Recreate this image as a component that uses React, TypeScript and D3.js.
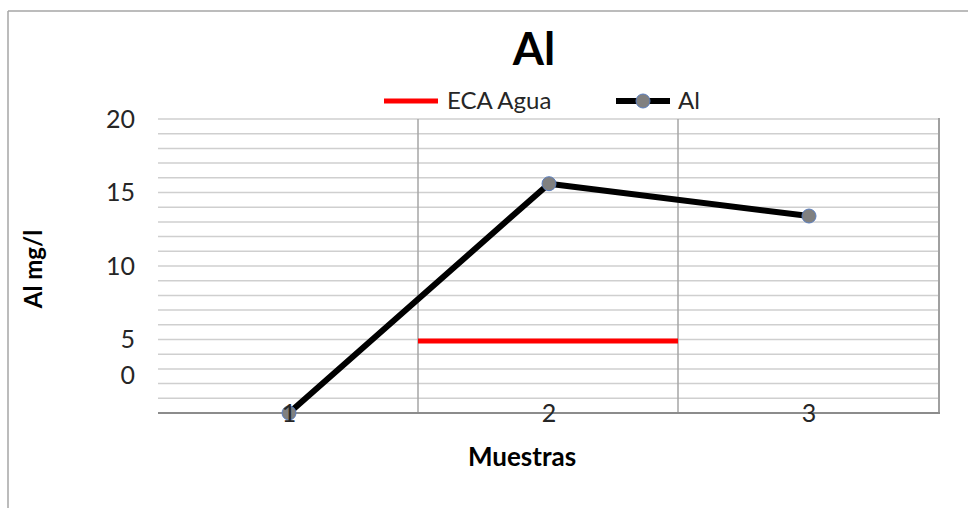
import React from "react";
import * as d3 from "d3";

const categories = ["1", "2", "3"];
const alValues = [0, 15.6, 13.4];
const ecaValue = 4.9;
const yTickValues = [20, 15, 10, 5, 2.6];
const yTickLabels = ["20", "15", "10", "5", "0"];
const yGridValues = d3.range(0, 21, 1);

const W = 968;
const H = 508;
const FONT = "Lato, 'Open Sans', sans-serif";

export default function App() {
  const left = 158;
  const right = 938;
  const top = 119;
  const bottom = 413;
  const x = d3.scaleBand<string>().domain(categories).range([left, right]);
  const cx = (c: string) => (x(c) as number) + x.bandwidth() / 2 + 1;
  const y = d3.scaleLinear().domain([0, 20]).range([bottom, top]);
  const line = d3
    .line<number>()
    .x((_, i) => cx(categories[i]))
    .y((d) => y(d));
  const ecaX0 = x("2") as number;
  const ecaX1 = ecaX0 + x.bandwidth();

  return (
    <svg
      width={W}
      height={H}
      style={{ position: "absolute", left: 0, top: 0, background: "#fff" }}
    >
      <rect x={0} y={0} width={W} height={H} fill="#fff" />
      {/* outer chart border */}
      <line x1={8} y1={11} x2={W} y2={11} stroke="#a6a6a6" strokeWidth={1.5} />
      <line x1={8} y1={11} x2={8} y2={H} stroke="#a6a6a6" strokeWidth={1.5} />

      {/* title */}
      <text x={534} y={65} textAnchor="middle" fontFamily={FONT} fontWeight="bold" fontSize={45} fill="#000">
        Al
      </text>

      {/* horizontal gridlines */}
      {yGridValues.map((v) => (
        <line key={v} x1={left} x2={right} y1={y(v)} y2={y(v)} stroke="#cfcfcf" strokeWidth={1.5} />
      ))}
      {/* vertical gridlines at band boundaries */}
      {categories.slice(1).map((c) => (
        <line key={c} x1={x(c) as number} x2={x(c) as number} y1={top} y2={bottom} stroke="#a6a6a6" strokeWidth={1.5} />
      ))}
      {/* right border & bottom axis */}
      <line x1={right + 1} x2={right + 1} y1={top - 1} y2={bottom + 1} stroke="#a0a0a0" strokeWidth={2} />
      <line x1={left} x2={right + 2} y1={bottom} y2={bottom} stroke="#8c8c8c" strokeWidth={2} />

      {/* y tick labels */}
      {yTickValues.map((v, i) => (
        <text key={i} x={135} y={y(v)} dy="0.35em" textAnchor="end" fontFamily={FONT} fontSize={25} fill="#262626">
          {yTickLabels[i]}
        </text>
      ))}

      {/* ECA line */}
      <line x1={ecaX0} x2={ecaX1} y1={y(ecaValue)} y2={y(ecaValue)} stroke="#ff0000" strokeWidth={5} />

      {/* Al series */}
      <path d={line(alValues) || ""} fill="none" stroke="#000" strokeWidth={6} strokeLinejoin="round" />
      {alValues.map((v, i) => (
        <circle key={i} cx={cx(categories[i])} cy={y(v)} r={7} fill="#808080" stroke="#5b7fbf" strokeWidth={1} />
      ))}

      {/* x tick labels */}
      {categories.map((c) => (
        <text key={c} x={cx(c)} y={422} textAnchor="middle" fontFamily={FONT} fontSize={25} fill="#262626">
          {c}
        </text>
      ))}

      {/* axis titles */}
      <text x={522} y={466} textAnchor="middle" fontFamily={FONT} fontWeight="bold" fontSize={26} fill="#000">
        Muestras
      </text>
      <text
        transform={`translate(42,269) rotate(-90)`}
        textAnchor="middle"
        fontFamily={FONT}
        fontWeight="bold"
        fontSize={24}
        fill="#000"
      >
        Al mg/l
      </text>

      {/* legend */}
      <line x1={384} x2={438} y1={101} y2={101} stroke="#ff0000" strokeWidth={5} />
      <text x={447} y={109} fontFamily={FONT} fontSize={24} fill="#262626">
        ECA Agua
      </text>
      <line x1={616} x2={670} y1={101} y2={101} stroke="#000" strokeWidth={6} />
      <circle cx={643} cy={101} r={7} fill="#808080" stroke="#5b7fbf" strokeWidth={1} />
      <text x={678} y={109} fontFamily={FONT} fontSize={24} fill="#262626">
        Al
      </text>
    </svg>
  );
}
